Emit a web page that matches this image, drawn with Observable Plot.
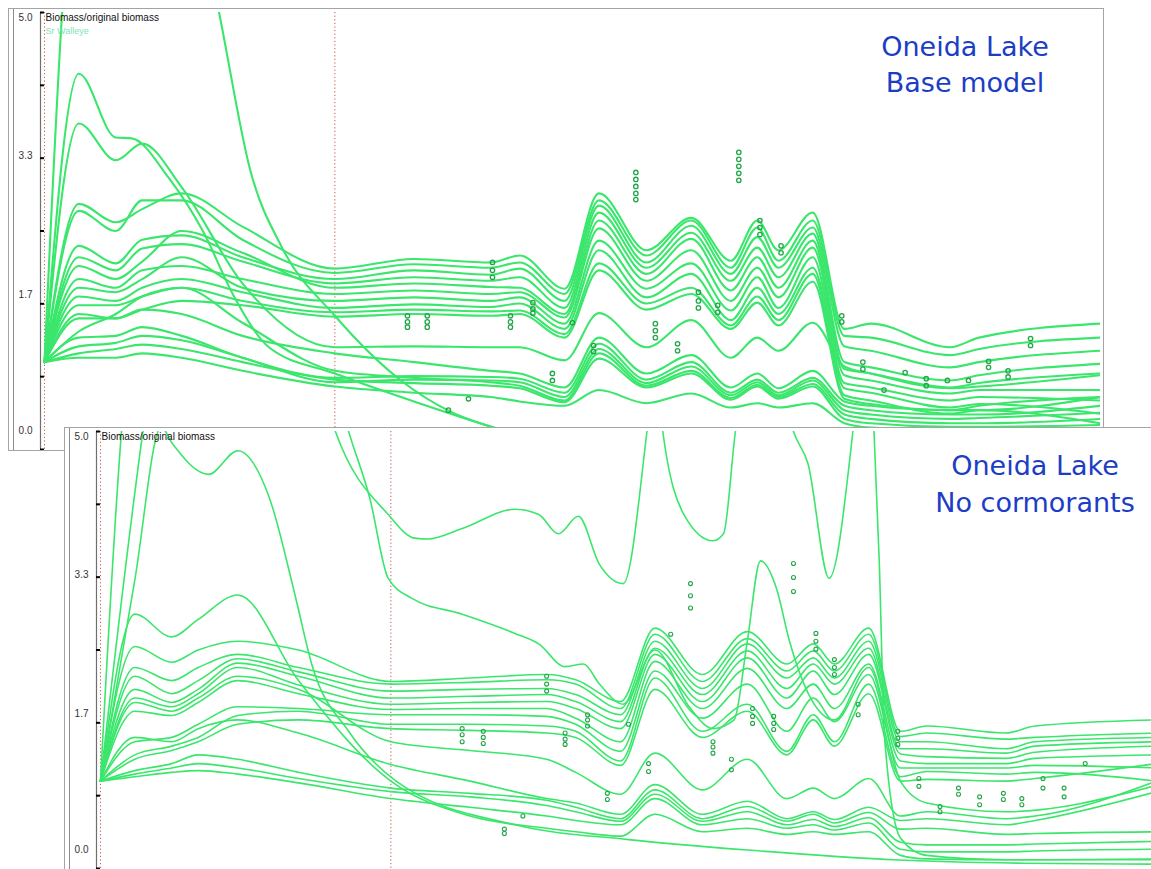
<!DOCTYPE html>
<html><head><meta charset="utf-8">
<script src="https://cdn.jsdelivr.net/npm/d3@7"></script>
<script src="https://cdn.jsdelivr.net/npm/@observablehq/plot@0.6"></script>
<style>
html,body{margin:0;padding:0;background:#fff;width:1151px;height:869px;overflow:hidden;position:relative;font-family:"Liberation Sans",Arial,sans-serif}
.panel{position:absolute;width:1096px;height:443px;background:#fff}
.panel svg{position:absolute;left:0;top:0}
.edge{position:absolute;left:0;top:0;right:0;bottom:0;border:1px solid #a4a4a4;pointer-events:none}
.inner{position:absolute;left:5px;top:0;bottom:0;width:1px;background:#8c8c8c}
.title{position:absolute;font-family:"DejaVu Sans",sans-serif;font-size:27px;line-height:36px;color:#1c3dc6;text-align:center;white-space:nowrap}
</style></head>
<body>
<div id="top" class="panel" style="left:8px;top:8px"></div>
<div class="title" style="left:865px;top:29px;width:200px">Oneida Lake<br>Base model</div>
<div id="bottom" class="panel" style="left:64px;top:427px"></div>
<div class="title" style="left:915px;top:447px;width:240px;line-height:37px">Oneida Lake<br>No cormorants</div>
<script>
// ---- axis / tick data ----
const yTicks = [0, 5/6, 5/3, 2.5, 10/3, 25/6, 5];
const labelTicks = [5, 10/3, 5/3, 0];
const redLines = [0, 11];
const yLabel = "Biomass/original biomass";
const groupLabel = "Sr Walleye";

// shared key years of the simulation
const K = [0, 1.3, 2.7, 3.7, 5.2, 7.5, 11, 14, 16.9, 18, 19.7, 21, 22.8, 24.5, 26, 27, 27.8, 29.1, 30.3, 31.3, 34.3, 35.4, 40];

// ---- Base model series ----
const baseU1 = [1.0, 2.81, 2.6, 2.75, 2.93, 2.55, 2.07, 2.18, 2.14, 2.22, 1.84, 2.93, 2.28, 2.65, 2.16, 2.62, 2.28, 2.71, 1.38, 1.44, 1.17, 1.28, 1.44];
const baseU2 = [1.0, 2.73, 2.5, 2.85, 2.85, 2.4, 2.02, 2.12, 2.08, 2.14, 1.78, 2.85, 2.22, 2.62, 2.08, 2.54, 2.16, 2.62, 1.3, 1.28, 1.08, 1.15, 1.28];
const baseU3 = [1.0, 2.33, 2.13, 2.4, 2.45, 2.2, 1.95, 2.05, 2.0, 2.07, 1.7, 2.79, 2.14, 2.56, 2.01, 2.43, 2.08, 2.54, 1.18, 1.13, 0.94, 1.0, 1.13];
const baseU4 = [1.0, 2.2, 2.05, 2.3, 2.35, 2.15, 1.9, 1.97, 1.93, 1.97, 1.62, 2.71, 2.08, 2.48, 1.93, 2.31, 1.97, 2.47, 1.0, 0.94, 0.79, 0.85, 0.98];
const baseU5 = [1.0, 2.1, 1.95, 2.15, 2.5, 2.25, 1.85, 1.9, 1.86, 1.85, 1.55, 2.62, 2.01, 2.41, 1.82, 2.2, 1.85, 2.39, 0.92, 0.87, 0.71, 0.76, 0.87];
const baseU6 = [1.0, 1.95, 1.85, 2.05, 2.1, 1.95, 1.78, 1.82, 1.78, 1.8, 1.51, 2.53, 1.93, 2.28, 1.7, 2.08, 1.74, 2.31, 0.85, 0.79, 0.64, 0.68, 0.68];
const baseU7 = [1.0, 1.85, 1.8, 1.95, 2.2, 1.85, 1.7, 1.74, 1.7, 1.74, 1.44, 2.39, 1.84, 2.13, 1.59, 1.97, 1.62, 2.2, 0.76, 0.71, 0.56, 0.6, 0.56];
const baseU8 = [1.0, 1.75, 1.7, 1.85, 1.95, 1.8, 1.62, 1.66, 1.63, 1.67, 1.38, 2.28, 1.74, 2.01, 1.48, 1.85, 1.55, 2.08, 0.7, 0.65, 0.48, 0.52, 0.41];
const baseU9 = [1.0, 1.65, 1.65, 1.75, 1.85, 1.7, 1.57, 1.6, 1.58, 1.59, 1.32, 2.13, 1.67, 1.85, 1.42, 1.75, 1.48, 2.01, 0.62, 0.56, 0.41, 0.45, 0.3];
const baseU10 = [1.0, 1.55, 1.5, 1.6, 1.7, 1.65, 1.52, 1.55, 1.53, 1.55, 1.28, 2.05, 1.6, 1.78, 1.38, 1.68, 1.42, 1.92, 0.58, 0.52, 0.45, 0.5, 0.6];
const baseL1 = [1.0, 3.73, 3.31, 3.5, 3.0, 1.9, 1.17, 1.18, 1.17, 1.17, 1.02, 1.56, 1.17, 1.48, 1.05, 1.28, 1.13, 1.45, 0.95, 0.87, 0.7, 0.72, 0.85];
const baseL2 = [1.0, 1.5, 1.5, 1.6, 1.55, 1.3, 1.1, 1.0, 0.9, 0.87, 0.71, 1.28, 0.87, 1.08, 0.71, 0.87, 0.7, 0.9, 0.55, 0.5, 0.45, 0.45, 0.6];
const baseL3 = [1.0, 1.28, 1.3, 1.4, 1.3, 1.05, 0.82, 0.84, 0.83, 0.81, 0.65, 1.21, 0.8, 1.0, 0.65, 0.8, 0.65, 0.82, 0.5, 0.45, 0.4, 0.4, 0.5];
const baseL4 = [1.0, 1.18, 1.22, 1.3, 1.25, 1.05, 0.77, 0.8, 0.79, 0.77, 0.6, 1.15, 0.76, 0.95, 0.62, 0.77, 0.62, 0.79, 0.45, 0.4, 0.35, 0.36, 0.42];
const baseL5 = [1.0, 1.35, 1.55, 1.75, 1.85, 1.45, 0.9, 0.82, 0.77, 0.73, 0.56, 1.1, 0.73, 0.9, 0.59, 0.74, 0.6, 0.75, 0.4, 0.35, 0.3, 0.3, 0.35];
const baseL6 = [1.0, 1.1, 1.15, 1.2, 1.15, 1.0, 0.8, 0.76, 0.73, 0.7, 0.54, 1.04, 0.71, 0.87, 0.57, 0.72, 0.58, 0.72, 0.35, 0.3, 0.26, 0.26, 0.28];
const baseL7 = [1.0, 1.05, 1.05, 1.1, 1.05, 0.9, 0.72, 0.65, 0.6, 0.55, 0.5, 0.68, 0.53, 0.64, 0.48, 0.53, 0.48, 0.53, 0.3, 0.25, 0.22, 0.22, 0.22];
const baseCrashYears = [0, 1.3, 2.7, 3.3, 4.7, 6.0, 7.2, 8.5, 11, 14, 17.4, 19.5, 24, 30, 40];
const baseCrash = [1.0, 4.3, 3.57, 3.56, 3.11, 2.5, 1.74, 1.17, 0.87, 0.55, 0.22, 0.06, 0.03, 0.02, 0.02];
const baseSpikeYears = [0, 0.8, 2.5, 4.5, 6.6, 7.8, 9, 11, 13.5, 15.4, 17.3, 18.8, 21, 30, 40];
const baseSpike = [1.0, 5.6, 9, 8, 5.02, 3.19, 2.31, 1.53, 0.79, 0.43, 0.22, 0.05, 0.02, 0.01, 0.01];

const obsBaseYears = [13.75, 14.5, 15.3, 16.06, 16.97, 17.65, 18.5, 19.24, 20.0, 20.8, 22.4, 23.14, 23.98, 24.77, 25.5, 26.3, 27.1, 27.9, 30.2, 31.0, 31.8, 32.6, 33.4, 34.2, 35.0, 35.76, 36.5, 37.35];
const obsBaseValues = [[1.53,1.46,1.40],[1.53,1.46,1.40],[0.45],[0.58],[2.14,2.05,1.97],[1.53,1.46,1.40],[1.68,1.61,1.56],[0.87,0.79],[1.45],[1.19,1.12],[3.17,3.09,3.01,2.93,2.86],[1.44,1.36,1.28],[1.21,1.13],[1.8,1.7,1.62],[1.65,1.57],[3.4,3.32,3.24,3.16,3.08],[2.62,2.54,2.46],[2.33,2.25],[1.53,1.46],[1.0,0.92],[0.68],[0.88],[0.81,0.73],[0.79],[0.79],[1.01,0.94],[0.9,0.83],[1.27,1.19]];

// ---- No cormorants series ----
const noU1 = [1.0, 2.54, 2.36, 2.5, 2.6, 2.5, 2.14, 2.18, 2.22, 2.16, 1.91, 2.75, 2.22, 2.71, 2.34, 2.57, 2.34, 2.75, 1.57, 1.63, 1.55, 1.63, 1.7];
const noU2 = [1.0, 2.3, 2.15, 2.3, 2.45, 2.3, 2.11, 2.13, 2.16, 2.11, 1.83, 2.68, 2.14, 2.63, 2.26, 2.49, 2.26, 2.68, 1.51, 1.55, 1.48, 1.5, 1.55];
const noU3 = [1.0, 2.2, 2.0, 2.15, 2.4, 2.25, 2.03, 2.05, 2.06, 1.99, 1.76, 2.6, 2.06, 2.57, 2.18, 2.41, 2.18, 2.6, 1.45, 1.45, 1.37, 1.45, 1.5];
const noU4 = [1.0, 2.05, 1.9, 2.05, 2.35, 2.2, 1.95, 1.97, 1.99, 1.91, 1.68, 2.52, 1.99, 2.49, 2.06, 2.34, 2.11, 2.52, 1.37, 1.37, 1.32, 1.4, 1.45];
const noU5 = [1.0, 1.95, 1.85, 2.0, 2.3, 2.1, 1.88, 1.9, 1.91, 1.83, 1.6, 2.45, 1.91, 2.41, 1.95, 2.26, 1.99, 2.45, 1.31, 1.28, 1.26, 1.33, 1.4];
const noU6 = [1.0, 1.8, 1.75, 1.9, 2.15, 2.0, 1.82, 1.83, 1.83, 1.72, 1.45, 2.37, 1.83, 2.29, 1.83, 2.11, 1.83, 2.34, 1.23, 1.2, 1.2, 1.26, 1.3];
const noU7 = [1.0, 1.45, 1.5, 1.65, 1.85, 1.83, 1.76, 1.76, 1.74, 1.65, 1.34, 2.26, 1.72, 2.11, 1.57, 1.95, 1.68, 2.22, 1.15, 1.15, 1.15, 1.18, 1.15];
const noU8 = [1.0, 1.3, 1.4, 1.5, 1.75, 1.8, 1.65, 1.65, 1.63, 1.57, 1.23, 2.18, 1.57, 1.88, 1.34, 1.76, 1.45, 2.11, 1.05, 1.11, 1.08, 1.1, 1.0];
const noU9 = [1.0, 1.25, 1.35, 1.45, 1.65, 1.7, 1.6, 1.58, 1.55, 1.5, 1.18, 2.05, 1.5, 1.8, 1.3, 1.7, 1.4, 2.0, 1.0, 1.02, 1.0, 1.03, 1.2];
const noLo1 = [1.0, 1.9, 1.8, 1.95, 2.2, 2.05, 1.45, 1.35, 1.25, 1.1, 0.85, 1.32, 0.9, 1.25, 0.8, 0.92, 0.8, 1.03, 0.6, 0.65, 0.57, 0.6, 1.0];
const noLo2 = [1.0, 1.5, 1.45, 1.6, 1.7, 1.55, 1.19, 1.0, 0.8, 0.75, 0.62, 0.96, 0.62, 0.77, 0.57, 0.65, 0.56, 0.7, 0.55, 0.57, 0.5, 0.55, 0.88];
const noLo3 = [1.0, 1.12, 1.2, 1.3, 1.25, 1.1, 0.92, 0.86, 0.78, 0.7, 0.57, 0.9, 0.57, 0.71, 0.54, 0.62, 0.52, 0.64, 0.45, 0.46, 0.39, 0.4, 0.42];
const noLo4 = [1.0, 1.08, 1.15, 1.2, 1.15, 1.03, 0.88, 0.82, 0.72, 0.65, 0.54, 0.85, 0.54, 0.65, 0.5, 0.56, 0.48, 0.58, 0.3, 0.27, 0.27, 0.28, 0.31];
const noLo5 = [1.0, 1.05, 1.1, 1.12, 1.08, 0.98, 0.8, 0.7, 0.6, 0.55, 0.5, 0.8, 0.5, 0.57, 0.46, 0.5, 0.44, 0.52, 0.22, 0.19, 0.19, 0.2, 0.22];
const noLo6 = [1.0, 2.91, 2.65, 2.85, 3.13, 2.15, 1.0, 0.6, 0.46, 0.42, 0.37, 0.62, 0.42, 0.46, 0.39, 0.42, 0.39, 0.42, 0.15, 0.11, 0.1, 0.1, 0.11];
const noPeakYears = [0, 1.3, 2.3, 2.73, 4.1, 5.2, 6.4, 7.4, 8.0, 9.4, 11.2, 15.7, 20, 25, 30, 35, 40];
const noPeak = [1.0, 3.3, 5.05, 4.86, 4.51, 4.78, 4.24, 3.09, 2.34, 1.57, 1.0, 0.5, 0.33, 0.2, 0.1, 0.06, 0.05];
const noSpike1Years = [0, 0.85, 3, 6, 8.9, 10.9, 11.9, 12.4, 13.7, 15.7, 16.6, 17.35, 18.1, 18.9, 19.8, 20.7, 21.0, 21.3, 22.1, 23.2, 23.6, 24.05, 25.2, 26.25, 26.8, 27.6, 28.5, 28.9, 29.3, 29.5, 29.7, 30.3, 31.3, 34.3, 40];
const noSpike1 = [1.0, 5.2, 9, 9, 5.0, 4.05, 3.78, 3.77, 3.89, 4.11, 4.05, 3.83, 4.03, 3.48, 3.26, 5.0, 5.8, 5.0, 4.05, 3.75, 3.83, 5.0, 6.5, 5.0, 4.63, 3.32, 5.0, 6.2, 5.0, 3.5, 1.5, 0.35, 0.15, 0.1, 0.1];
const noSpike2Years = [0, 1.7, 4, 7, 9.4, 10.2, 10.9, 11.8, 13.7, 15.7, 16.6, 17.6, 18.3, 18.9, 19.8, 21, 22.3, 23.2, 24.0, 24.5, 25.0, 25.6, 26.1, 26.9, 27.8, 29.1, 30.3, 31.3, 34.3, 40];
const noSpike2 = [1.0, 5.2, 9, 8, 5.0, 4.24, 3.32, 3.09, 2.91, 2.69, 2.57, 2.31, 2.34, 2.11, 1.88, 2.5, 1.85, 1.6, 1.7, 2.6, 3.52, 3.21, 2.6, 1.95, 1.7, 2.3, 1.0, 0.75, 0.65, 0.95];

const obsNoYears = [13.7, 14.5, 15.3, 16.0, 16.9, 17.6, 18.45, 19.2, 20.0, 20.76, 21.6, 22.35, 23.2, 23.9, 24.7, 25.5, 26.25, 27.1, 27.8, 28.7, 30.2, 31.0, 31.8, 32.5, 33.3, 34.2, 34.9, 35.7, 36.5, 37.3];
const obsNoValues = [[1.6,1.53,1.45],[1.57,1.5,1.43],[0.45,0.4],[0.6],[2.2,2.11,2.03],[1.55,1.48,1.42],[1.76,1.7,1.63],[0.86,0.79],[1.65],[1.2,1.11],[2.68],[3.26,3.12,2.98],[1.45,1.39,1.32],[1.25,1.13],[1.83,1.74,1.66],[1.74,1.66,1.59],[3.49,3.33,3.17],[2.69,2.6,2.51],[2.39,2.3,2.22],[1.88,1.76],[1.57,1.49,1.42],[1.03,0.94],[0.71,0.65],[0.92,0.85],[0.82,0.73],[0.86,0.79],[0.8,0.73],[1.03,0.92],[0.92,0.82],[1.2]];

// ---- assemble ----
const baseSeries = [baseU1, baseU2, baseU3, baseU4, baseU5, baseU6, baseU7, baseU8, baseU9, baseU10,
  baseL1, baseL2, baseL3, baseL4, baseL5, baseL6, baseL7].map(y => ({x: K, y}))
  .concat([{x: baseCrashYears, y: baseCrash}, {x: baseSpikeYears, y: baseSpike}]);
const noSeries = [noU1, noU2, noU3, noU4, noU5, noU6, noU7, noU8, noU9,
  noLo1, noLo2, noLo3, noLo4, noLo5, noLo6].map(y => ({x: K, y}))
  .concat([{x: noPeakYears, y: noPeak}, {x: noSpike1Years, y: noSpike1}, {x: noSpike2Years, y: noSpike2}]);

const lineColor = "#3be66c";
const markColor = "#22a648";
const labelShift = [5, -2, -9, -19];
const xMin = -0.15;

function drawPanel(el, series, obsYears, obsValues, opt) {
  const pts = obsYears.flatMap((yr, i) => obsValues[i].map(v => ({yr, v})));
  const marks = [
    Plot.ruleX(redLines, {stroke: "#c8504a", strokeWidth: 1, strokeDasharray: "1.2,2.4"}),
    Plot.ruleX([xMin], {stroke: "#6f6f6f", strokeWidth: 1.2}),
    Plot.ruleY(yTicks, {x1: xMin, x2: 0, stroke: "#000", strokeWidth: 2}),
    ...labelTicks.map((t, i) => Plot.text([t], {y: d => d, text: d => d3.format(".1f")(d), frameAnchor: "left", textAnchor: "end", dx: -8, dy: labelShift[i], fontSize: 10, fill: "#333"})),
    ...series.map(s => Plot.line(s.y.map((v, i) => ({yr: s.x[i], v})), {x: "yr", y: "v", stroke: lineColor, strokeWidth: opt.sw, curve: "monotone-x", clip: true})),
    Plot.dot(pts, {x: "yr", y: "v", r: opt.r, stroke: markColor, strokeWidth: opt.msw, fill: "none"}),
    Plot.text([yLabel], {text: d => d, frameAnchor: "top-left", textAnchor: "start", lineAnchor: "top", dx: 5, dy: 1, fontSize: 10, fill: "#111"})
  ];
  if (opt.group) marks.push(Plot.text([groupLabel], {text: d => d, frameAnchor: "top-left", textAnchor: "start", lineAnchor: "top", dx: 5, dy: 15, fontSize: 9, fill: "#7ee3b4"}));
  const svg = Plot.plot({
    width: 1096, height: 443,
    marginLeft: 32, marginRight: 4, marginTop: 4, marginBottom: 2,
    x: {domain: [xMin, 40], axis: null},
    y: {domain: [0, 5], axis: null},
    style: {background: "transparent", fontFamily: "Liberation Sans, Arial, sans-serif"},
    marks
  });
  el.appendChild(svg);
  const inner = document.createElement("div"); inner.className = "inner"; el.appendChild(inner);
  const edge = document.createElement("div"); edge.className = "edge"; el.appendChild(edge);
}

drawPanel(document.getElementById("top"), baseSeries, obsBaseYears, obsBaseValues, {sw: 2.1, r: 2.2, msw: 1.3, group: true});
drawPanel(document.getElementById("bottom"), noSeries, obsNoYears, obsNoValues, {sw: 1.6, r: 2, msw: 1.1, group: false});
</script>
</body></html>
